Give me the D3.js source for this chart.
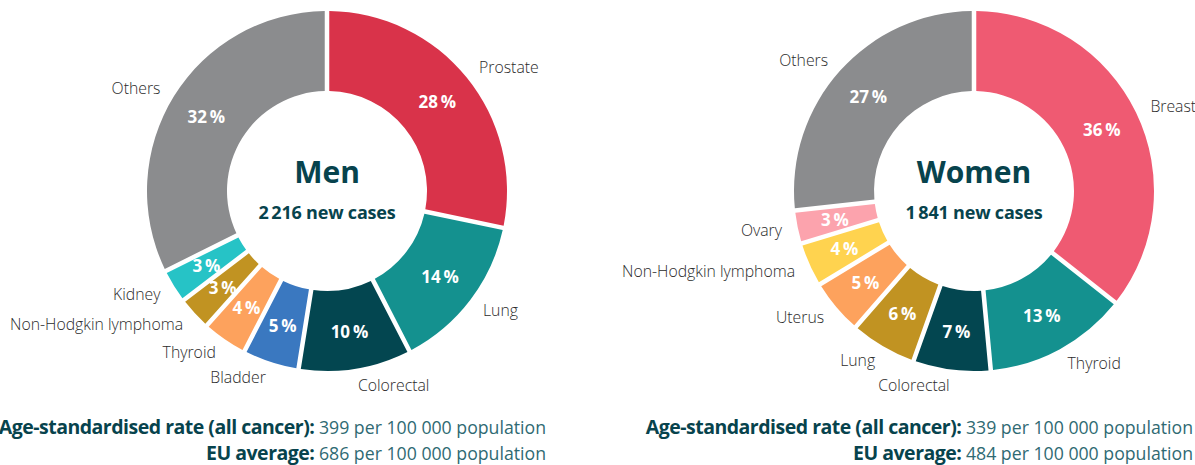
<!DOCTYPE html>
<html>
<head>
<meta charset="utf-8">
<script src="https://cdn.jsdelivr.net/npm/d3@7"></script>
<style>
  body { margin: 0; background: #fff; }
  svg { display: block; }
</style>
</head>
<body>
<div id="chart"></div>
<script>
(function(){
  // data
  const menCats = ["Prostate", "Lung", "Colorectal", "Bladder", "Thyroid", "Non-Hodgkin lymphoma", "Kidney", "Others"];
  const menValues = [28, 14, 10, 5, 4, 3, 3, 32];
  const menColors = ["#d9334a", "#14918f", "#034650", "#3a78c0", "#fda25d", "#c19322", "#26c3c6", "#8b8c8e"];

  const womenCats = ["Breast", "Thyroid", "Colorectal", "Lung", "Uterus", "Non-Hodgkin lymphoma", "Ovary", "Others"];
  const womenValues = [36, 13, 7, 6, 5, 4, 3, 27];
  const womenColors = ["#ef5a72", "#14918f", "#034650", "#c19322", "#fda25d", "#ffd34f", "#fca3ad", "#8b8c8e"];

  const titles = ["Men", "Women"];
  const newCases = ["2\u2009216 new cases", "1\u2009841 new cases"];
  const rates = [399, 339];
  const euAverage = [686, 484];

  const width = 1195, height = 465;
  const outerR = 180, innerR = 100, labelR = 196, pctR = 142;
  const dark = "#07434d";

  const svg = d3.select("#chart").append("svg")
      .attr("width", width)
      .attr("height", height);

  const pie = d3.pie().sort(null).value(d => d.value);
  const arc = d3.arc().innerRadius(innerR).outerRadius(outerR).padAngle(0.022);

  function donut(cats, values, colors, cx, i) {
    const data = cats.map((c, k) => ({name: c, value: values[k], color: colors[k]}));
    const arcs = pie(data);
    const g = svg.append("g").attr("transform", `translate(${cx},191)`);

    g.selectAll("path")
      .data(arcs)
      .enter().append("path")
      .attr("d", arc)
      .attr("fill", d => d.data.color);

    // percentage labels
    g.selectAll(".pct")
      .data(arcs)
      .enter().append("text")
      .attr("class", "pct")
      .attr("x", d => pctR * Math.sin((d.startAngle + d.endAngle) / 2))
      .attr("y", d => -pctR * Math.cos((d.startAngle + d.endAngle) / 2))
      .attr("text-anchor", "middle")
      .attr("dominant-baseline", "central")
      .style("font-family", "'Open Sans', sans-serif")
      .style("font-weight", 700)
      .style("font-size", "17px")
      .style("fill", "#fff")
      .text(d => d.data.value + "\u2009%");

    // category labels
    g.selectAll(".cat")
      .data(arcs)
      .enter().append("text")
      .attr("class", "cat")
      .attr("x", d => labelR * Math.sin((d.startAngle + d.endAngle) / 2))
      .attr("y", d => -labelR * Math.cos((d.startAngle + d.endAngle) / 2))
      .attr("text-anchor", d => (d.startAngle + d.endAngle) / 2 < Math.PI ? "start" : "end")
      .attr("dominant-baseline", "central")
      .style("font-family", "'Open Sans', sans-serif")
      .style("font-weight", 300)
      .style("font-size", "15.8px")
      .style("fill", "#2b2b2b")
      .text(d => d.data.name);

    // centre
    g.append("text")
      .attr("y", -8)
      .attr("text-anchor", "middle")
      .style("font-family", "'Open Sans', sans-serif")
      .style("font-weight", 700)
      .style("font-size", "30px")
      .style("fill", dark)
      .text(titles[i]);

    g.append("text")
      .attr("y", 28)
      .attr("text-anchor", "middle")
      .style("font-family", "'Open Sans', sans-serif")
      .style("font-weight", 700)
      .style("font-size", "18px")
      .style("letter-spacing", "-0.2px")
      .style("fill", dark)
      .text(newCases[i]);

    // rates under the chart
    const lines = [
      ["Age-standardised rate (all cancer): ", rates[i] + " per 100 000 population"],
      ["EU average: ", euAverage[i] + " per 100 000 population"]
    ];
    lines.forEach((l, k) => {
      const t = svg.append("text")
        .attr("x", cx + 219)
        .attr("y", 434 + k * 26)
        .attr("text-anchor", "end");
      t.append("tspan")
        .style("font-family", "'Open Sans', sans-serif")
        .style("font-size", "19.5px")
        .style("font-weight", 700)
        .style("fill", dark)
        .style("letter-spacing", "-0.5px")
        .text(l[0]);
      t.append("tspan")
        .style("font-family", "'Open Sans', sans-serif")
        .style("font-size", "17.7px")
        .style("font-weight", 400)
        .style("fill", "#2f6a73")
        .text(l[1]);
    });
  }

  donut(menCats, menValues, menColors, 327, 0);
  donut(womenCats, womenValues, womenColors, 974, 1);
})();
</script>
</body>
</html>
